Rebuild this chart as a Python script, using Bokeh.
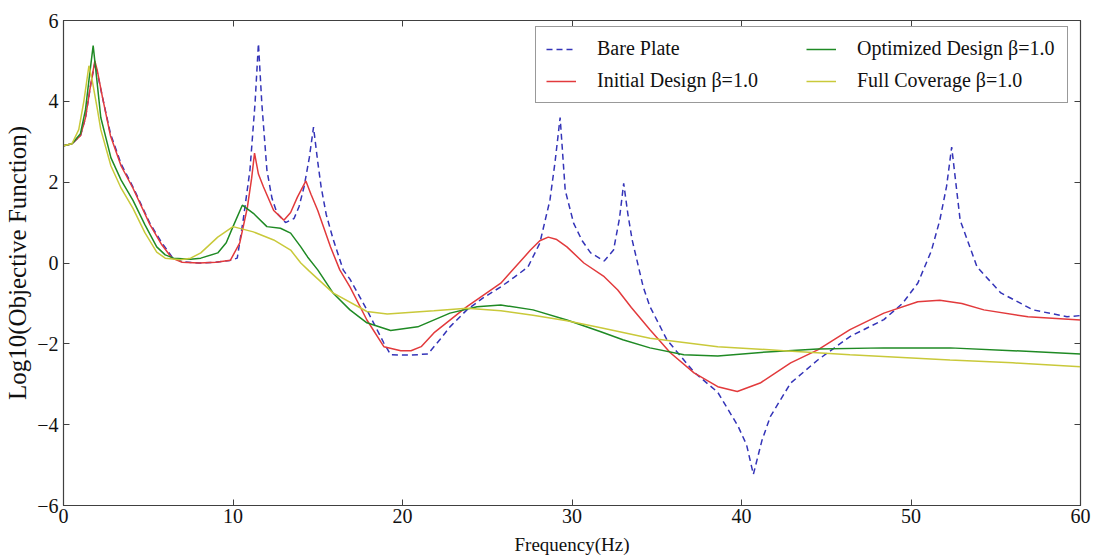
from bokeh.plotting import figure
from bokeh.models import (Range1d, LinearAxis, Legend, LegendItem, FixedTicker,
                          CustomJSTickFormatter)
from bokeh.embed import file_html
from bokeh.resources import INLINE

# ---------------- data ----------------
bare_x = [0, 0.5, 1.0, 1.3, 1.6, 1.85, 2.0, 2.3, 2.77, 3.4, 4.1, 5.1, 5.8, 6.4, 7.0, 8.0, 9.0, 9.8,
          10.25, 10.6, 11.0, 11.3, 11.5, 11.7, 12.0, 12.3, 12.6, 13.1, 13.6, 13.9, 14.2, 14.5, 14.75,
          15.0, 15.2, 15.5, 15.9, 16.5, 16.9, 17.9, 18.9, 19.3, 20.5, 21.5, 22.2, 22.8, 23.8, 24.8,
          25.8, 26.6, 27.4, 28.1, 28.7, 29.0, 29.3, 29.6, 30.1, 30.6, 31.1, 31.9, 32.45, 32.8, 33.05,
          33.3, 33.55, 34.2, 34.6, 35.6, 37.2, 38.6, 39.8, 40.3, 40.7, 41.2, 41.7, 42.9, 44.5, 46.4,
          48.4, 49.5, 50.4, 51.2, 51.7, 52.1, 52.4, 52.9, 53.9, 55.3, 57.2, 59.2, 60]
bare_y = [2.9, 2.95, 3.15, 3.6, 4.4, 4.95, 4.7, 4.1, 3.2, 2.45, 1.88, 0.98, 0.5, 0.15, 0.03, 0.0, 0.02, 0.06,
          0.12, 1.06, 2.3, 3.95, 5.43, 3.95, 2.3, 1.6, 1.23, 1.0, 1.1, 1.4, 1.9, 2.6, 3.36,
          2.5, 1.88, 1.2, 0.6, -0.17, -0.4, -1.16, -1.98, -2.27, -2.28, -2.25, -1.9, -1.58, -1.16, -0.85,
          -0.59, -0.35, -0.1, 0.49, 1.56, 2.5, 3.6, 1.8, 0.98, 0.55, 0.25, 0.05, 0.32, 1.1, 1.97,
          1.2, 0.57, -0.59, -1.08, -1.9, -2.7, -3.2, -4.04, -4.5, -5.23, -4.4, -3.8, -2.97, -2.4, -1.82,
          -1.4, -1.0, -0.5, 0.3, 1.06, 1.9, 2.87, 1.06, -0.1, -0.74, -1.16, -1.33, -1.3]

init_x = [0, 0.5, 1.0, 1.3, 1.6, 1.85, 2.0, 2.3, 2.77, 3.4, 4.1, 5.1, 5.8, 6.4, 7.0, 8.0, 9.0, 9.85,
          10.4, 10.85, 11.1, 11.27, 11.5, 11.8, 12.4, 13.0, 13.4, 13.8, 14.3, 14.6, 15.0, 15.75, 16.3,
          16.9, 17.9, 18.9, 19.9, 20.5, 21.1, 21.85, 23.8, 25.8, 27.55, 28.1, 28.6, 29.1, 29.7, 30.7,
          31.9, 32.7, 33.5, 34.6, 35.8, 37.2, 38.6, 39.75, 41.1, 42.9, 44.5, 46.4, 48.4, 50.4, 51.7,
          53.0, 54.3, 56.9, 60]
init_y = [2.9, 2.95, 3.15, 3.6, 4.4, 5.0, 4.75, 4.1, 3.15, 2.4, 1.85, 0.95, 0.45, 0.12, 0.02, 0.0, 0.02, 0.07,
          0.5, 1.38, 2.1, 2.72, 2.2, 1.88, 1.3, 1.06, 1.25, 1.63, 2.03, 1.7, 1.3, 0.4, -0.17,
          -0.59, -1.41, -2.07, -2.17, -2.17, -2.07, -1.73, -1.08, -0.5, 0.32, 0.55, 0.64, 0.58, 0.4, 0.0,
          -0.34, -0.67, -1.1, -1.65, -2.22, -2.72, -3.06, -3.18, -2.97, -2.47, -2.15, -1.65, -1.24, -0.96, -0.92,
          -1.0, -1.16, -1.33, -1.41]

opt_x = [0, 0.5, 1.0, 1.3, 1.55, 1.75, 1.95, 2.2, 2.8, 3.4, 4.1, 4.8, 5.5, 6.0, 6.5, 7.5, 8.1, 9.1, 9.6,
         10.0, 10.55, 11.2, 12.0, 12.8, 13.4, 14.0, 14.4, 15.0, 15.9, 16.9, 17.9, 19.3, 20.9, 22.8,
         24.4, 25.8, 27.7, 29.7, 31.7, 33.0, 34.6, 36.6, 38.6, 41.5, 44.5, 48.4, 52.3, 56.0, 60]
opt_y = [2.9, 2.95, 3.2, 3.8, 4.7, 5.38, 4.6, 3.6, 2.6, 2.05, 1.55, 0.95, 0.4, 0.2, 0.12, 0.09, 0.12, 0.25, 0.5,
         0.9, 1.43, 1.23, 0.9, 0.86, 0.74, 0.4, 0.15, -0.17, -0.74, -1.16, -1.48, -1.67, -1.58, -1.24,
         -1.08, -1.04, -1.16, -1.41, -1.7, -1.9, -2.1, -2.27, -2.3, -2.2, -2.13, -2.1, -2.1, -2.17, -2.25]

full_x = [0, 0.5, 0.9, 1.2, 1.5, 1.7, 2.0, 2.2, 2.8, 3.4, 4.1, 4.8, 5.5, 6.0, 6.9, 7.5, 8.1, 9.1, 10.0,
          11.2, 12.4, 13.4, 14.0, 14.5, 15.9, 17.9, 19.1, 21.85, 23.8, 25.8, 27.7, 29.7, 31.7, 34.6,
          38.6, 42.5, 46.4, 52.3, 56.0, 60]
full_y = [2.9, 2.95, 3.3, 4.0, 4.88, 4.5, 3.8, 3.3, 2.4, 1.85, 1.35, 0.75, 0.27, 0.12, 0.08, 0.12, 0.25, 0.64, 0.9,
          0.77, 0.57, 0.32, 0.0, -0.2, -0.74, -1.2, -1.26, -1.18, -1.12, -1.18, -1.29, -1.43, -1.6, -1.86,
          -2.07, -2.17, -2.27, -2.4, -2.47, -2.57]

x_ticks = [0, 10, 20, 30, 40, 50, 60]
y_ticks = [-6, -4, -2, 0, 2, 4, 6]
labels = ["Bare Plate", "Initial Design \u03b2=1.0", "Optimized Design \u03b2=1.0", "Full Coverage \u03b2=1.0"]

# ---------------- figure ----------------
FONT = "Liberation Serif"
p = figure(width=1095, height=557, output_backend="svg", toolbar_location=None,
           x_range=Range1d(0, 60), y_range=Range1d(-6, 6),
           min_border_left=63, min_border_right=15, min_border_top=20, min_border_bottom=51)
p.grid.visible = False
p.outline_line_color = "#404040"
p.outline_line_width = 1.2
p.background_fill_color = "white"
p.border_fill_color = "white"

fmt = CustomJSTickFormatter(code="return tick < 0 ? '\\u2212' + (-tick) : '' + tick;")

for ax in [p.xaxis[0], p.yaxis[0]]:
    ax.major_tick_in = 6
    ax.major_tick_out = 0
    ax.minor_tick_line_color = None
    ax.axis_line_color = "#404040"
    ax.major_tick_line_color = "#404040"
    ax.major_label_text_font = FONT
    ax.major_label_text_font_size = "20px"
    ax.major_label_text_color = "#111111"
    ax.axis_label_text_font = FONT
    ax.axis_label_text_font_style = "normal"
    ax.axis_label_text_color = "#111111"
    ax.formatter = fmt

p.xaxis[0].ticker = FixedTicker(ticks=x_ticks)
p.yaxis[0].ticker = FixedTicker(ticks=y_ticks)
p.xaxis[0].axis_label = "Frequency(Hz)"
p.yaxis[0].axis_label = "Log10(Objective Function)"
p.xaxis[0].axis_label_text_font_size = "19px"
p.yaxis[0].axis_label_text_font_size = "25px"
p.xaxis[0].major_label_standoff = 3
p.xaxis[0].axis_label_standoff = 8
p.yaxis[0].major_label_standoff = 5
p.yaxis[0].axis_label_standoff = 3

for ticks, side in [(x_ticks, "above"), (y_ticks, "right")]:
    ax = LinearAxis(ticker=FixedTicker(ticks=ticks))
    ax.major_tick_in = 6
    ax.major_tick_out = 0
    ax.minor_tick_line_color = None
    ax.axis_line_color = "#404040"
    ax.major_tick_line_color = "#404040"
    ax.major_label_text_color = None
    ax.major_label_text_font_size = "1px"
    ax.major_label_standoff = 0
    p.add_layout(ax, side)

r_bare = p.line(bare_x, bare_y, line_color="#3434b8", line_width=1.5, line_dash="6 4")
r_init = p.line(init_x, init_y, line_color="#e23a3c", line_width=1.5)
r_opt = p.line(opt_x, opt_y, line_color="#1f8a24", line_width=1.5)
r_full = p.line(full_x, full_y, line_color="#c9c93a", line_width=1.5)

legend = Legend(items=[LegendItem(label=labels[0], renderers=[r_bare]),
                       LegendItem(label=labels[1], renderers=[r_init]),
                       LegendItem(label=labels[2], renderers=[r_opt]),
                       LegendItem(label=labels[3], renderers=[r_full])],
                location=(472, 402), orientation="vertical", nrows=2)
legend.label_text_font = FONT
legend.label_text_font_size = "20px"
legend.label_text_color = "#111111"
legend.glyph_width = 30
legend.label_standoff = 21
legend.label_width = 200
legend.spacing = 9
legend.padding = 10
legend.margin = 0
legend.border_line_color = "#333333"
legend.border_line_width = 1.5
legend.background_fill_alpha = 1.0
p.add_layout(legend, "center")

open("out.html", "w").write(file_html(p, INLINE))
